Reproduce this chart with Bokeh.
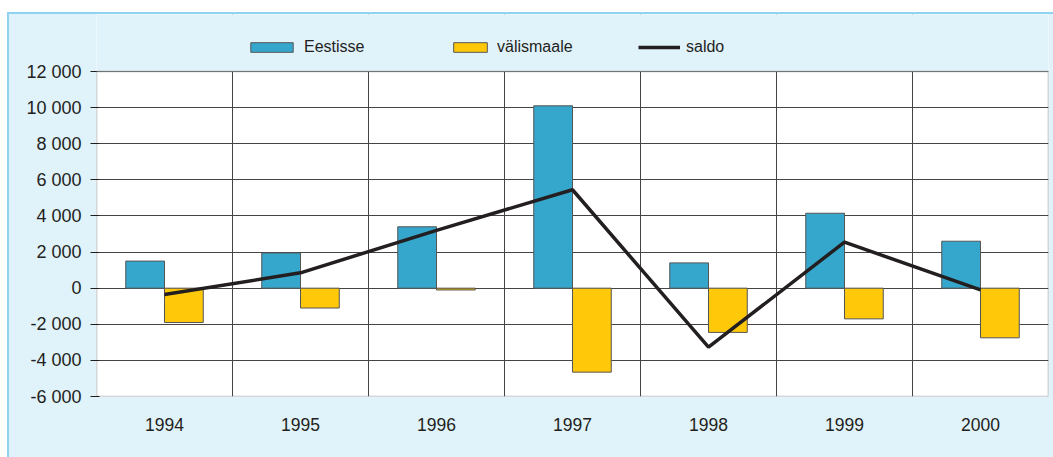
from bokeh.plotting import figure
from bokeh.models import ColumnDataSource, Range1d, FixedTicker, Legend, LegendItem, BoxAnnotation
from bokeh.transform import dodge
from bokeh.embed import file_html
from bokeh.resources import INLINE

years = [1994, 1995, 1996, 1997, 1998, 1999, 2000]
eestisse = [1500, 1950, 3400, 10100, 1400, 4150, 2600]
valismaale = [-1900, -1100, -100, -4650, -2450, -1700, -2750]
saldo = [-350, 850, 3200, 5450, -3270, 2550, -100]
y_ticks = [-6000, -4000, -2000, 0, 2000, 4000, 6000, 8000, 10000, 12000]
Y_MIN, Y_MAX = -6000, 12000

src = ColumnDataSource(dict(year=years, e=eestisse, v=valismaale, s=saldo))

FONT = "Liberation Sans"
BG = "#e0f2fa"
INK = "#231f20"

# page layout (pixels)
BW = 2                  # width of the light-blue border line
OX, OY = 9, 14          # origin of the figure content on the page
L, T, R, B = 96, 71, 1048, 396   # plot area on the page
W, H = 1053 - OX + BW, 457 - OY + BW   # css size incl. border (border-box)
y_top = Y_MAX + (T - OY) * (Y_MAX - Y_MIN) / (B - T)

p = figure(width=W, height=H, output_backend="svg", toolbar_location=None,
           x_range=Range1d(1993.5, 2000.5), y_range=Range1d(Y_MIN, y_top),
           min_border_left=L - OX, min_border_right=1053 - R + BW, min_border_top=0,
           min_border_bottom=457 - B + BW)
p.margin = (OY - BW, 0, 0, OX - BW)
p.styles = {"border-left": f"{BW}px solid #8fd3f3", "border-top": f"{BW}px solid #8fd3f3",
            "background-color": BG}
p.border_fill_color = BG
p.background_fill_color = "white"
p.outline_line_color = None

bw = 0.285
r1 = p.vbar(x=dodge("year", -bw / 2, range=p.x_range), top="e", bottom=0, width=bw, source=src,
            fill_color="#36a7cc", line_color="#555555", line_width=1)
r2 = p.vbar(x=dodge("year", bw / 2, range=p.x_range), top="v", bottom=0, width=bw, source=src,
            fill_color="#ffc90a", line_color="#555555", line_width=1)
r3 = p.line(x="year", y="s", source=src, line_color=INK, line_width=3.5)

# area above the plot box belongs to the light-blue background
p.add_layout(BoxAnnotation(bottom=Y_MAX, fill_color=BG, fill_alpha=1, line_color=None, line_alpha=0))
# plot box outline
p.add_layout(BoxAnnotation(bottom=Y_MIN, top=Y_MAX, fill_alpha=0, line_color=INK, line_width=1.6))

# grids
p.xgrid.ticker = FixedTicker(ticks=[y + 0.5 for y in years[:-1]])
p.xgrid.grid_line_color = "#444444"
p.xgrid.grid_line_width = 1
p.ygrid.ticker = FixedTicker(ticks=y_ticks)
p.ygrid.grid_line_color = "#444444"
p.ygrid.grid_line_width = 1

# x axis
p.xaxis.ticker = FixedTicker(ticks=years)
p.xaxis.major_label_overrides = {y: str(y) for y in years}
p.xaxis.axis_line_color = None
p.xaxis.major_tick_line_color = None
p.xaxis.minor_tick_line_color = None
p.xaxis.major_tick_out = 0
p.xaxis.major_label_standoff = 21
p.xaxis.major_label_text_font = FONT
p.xaxis.major_label_text_font_size = "17.5px"
p.xaxis.major_label_text_color = INK

# y axis
p.yaxis.ticker = FixedTicker(ticks=y_ticks)
p.yaxis.major_label_overrides = {t: f"{t:,}".replace(",", " ") for t in y_ticks}
p.yaxis.axis_line_color = None
p.yaxis.major_tick_line_color = INK
p.yaxis.major_tick_out = 6
p.yaxis.major_tick_in = 3
p.yaxis.minor_tick_line_color = None
p.yaxis.major_label_standoff = 9
p.yaxis.major_label_text_font = FONT
p.yaxis.major_label_text_font_size = "18px"
p.yaxis.major_label_text_color = INK

# legends (one per entry, placed like the original)
leg_y = B - 47 - 9
for label, rend, x0, gw in [("Eestisse", r1, 245, 53), ("välismaale", r2, 449, 42), ("saldo", r3, 638, 42)]:
    lg = Legend(items=[LegendItem(label=label, renderers=[rend])],
                orientation="horizontal", location=(x0 - L, leg_y),
                glyph_width=gw, glyph_height=12, label_standoff=6,
                padding=0, margin=0, background_fill_alpha=0, border_line_alpha=0,
                label_text_font=FONT, label_text_font_size="16px", label_text_color=INK)
    p.add_layout(lg, "center")

open("out.html", "w").write(file_html(p, INLINE))
